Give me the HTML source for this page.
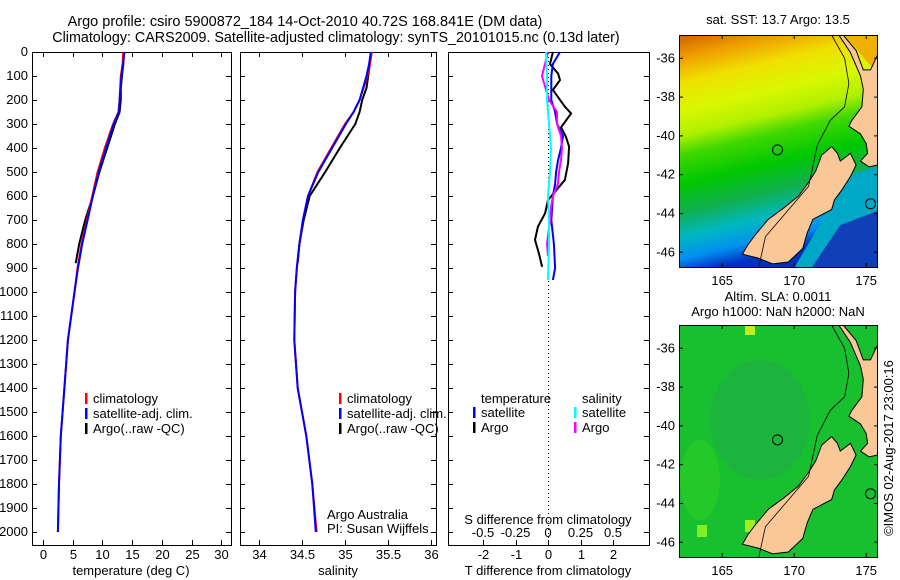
<!DOCTYPE html>
<html><head><meta charset="utf-8"><style>
body{margin:0;background:#fff;}
svg{display:block;font-family:"Liberation Sans",sans-serif;}
text{font-size:12.5px;fill:#000;}
</style></head><body>
<svg id="c" width="900" height="580" viewBox="0 0 900 580">
<text x="305" y="26" text-anchor="middle" style="font-size:14.5px">Argo profile: csiro 5900872_184 14-Oct-2010 40.72S 168.841E (DM data)</text>
<text x="336" y="42" text-anchor="middle" style="font-size:14.3px">Climatology: CARS2009. Satellite-adjusted climatology: synTS_20101015.nc (0.13d later)</text>
<g id="g"></g>
</svg>
<script>
// ---- data ----
const depthTicks=[0,100,200,300,400,500,600,700,800,900,1000,1100,1200,1300,1400,1500,1600,1700,1800,1900,2000];
const tTicks=[0,5,10,15,20,25,30];
const sTicks=[34,34.5,35,35.5,36];
const tdTicks=[-2,-1,0,1,2];
const sdTicks=[-0.5,-0.25,0,0.25,0.5];
const sdTickLabels=["-0.5","-0.25","0","0.25","0.5"];
const profDepth=[0,50,100,200,250,300,400,500,600,700,800,900,1000,1200,1400,1500,1600,1800,2000];
const tempClim=[13.5,13.4,13.1,12.9,12.7,11.8,10.4,9.2,8.3,7.4,6.5,5.8,5.3,4.2,3.6,3.3,3.0,2.7,2.5];
const tempSat=[13.7,13.5,13.2,12.9,12.8,11.9,10.6,9.4,8.4,7.5,6.6,5.9,5.3,4.2,3.6,3.3,3.0,2.7,2.5];
const argoDepth=[0,50,100,150,200,250,300,400,500,600,700,800,880];
const tempArgo=[13.6,13.5,13.3,13.1,13.1,12.9,12.1,10.8,9.5,8.4,7.1,6.1,5.5];
const salClim=[35.31,35.29,35.26,35.17,35.10,35.00,34.84,34.68,34.57,34.51,34.47,34.44,34.42,34.41,34.45,34.50,34.55,34.62,34.67];
const salSat=[35.30,35.28,35.25,35.17,35.10,35.01,34.85,34.69,34.57,34.51,34.47,34.44,34.42,34.41,34.45,34.50,34.55,34.62,34.66];
const salArgo=[35.31,35.29,35.27,35.25,35.20,35.17,35.12,34.94,34.77,34.59,34.52,34.47,34.45];
const dBlueD=[0,50,100,200,250,300,350,400,450,500,550,600,700,800,900,950];
const dBlueT=[0.37,0.15,0.1,0.1,0.22,0.28,0.46,0.4,0.31,0.25,0.22,0.15,0.1,0.18,0.22,0.15];
const dBlackD=[0,50,90,117,158,228,256,314,353,394,464,533,617,672,728,783,839,895];
const dBlackT=[0.15,0.06,0.31,0.37,0.15,0.52,0.71,0.4,0.55,0.65,0.62,0.52,0.0,-0.09,-0.31,-0.4,-0.28,-0.18];
const dCyanD=[0,100,200,300,400,500,600,700,800,950];
const dCyanS=[-0.015,-0.008,-0.008,0.008,0.023,0.015,0.0,0.008,0.008,0.0];
const dMagD=[0,50,100,200,250,300,350,400,450,500,550,600,650,700,800,850];
const dMagS=[0.0,-0.023,-0.046,0.008,0.069,0.069,0.1,0.108,0.1,0.085,0.077,0.038,0.023,0.015,-0.008,0.0];
const latTicks=[-36,-38,-40,-42,-44,-46];
const lonTicks=[165,170,175];

const NS="http://www.w3.org/2000/svg";
const G=document.getElementById('g');
function mk(t,a,p){const e=document.createElementNS(NS,t);for(const k in a)e.setAttribute(k,a[k]);(p||G).appendChild(e);return e;}
const y=d=>52+d*0.24;
const xT=v=>43+v*5.94;
const xS=v=>259+(v-34)*86;
const xTD=v=>548+v*32.5;
const xSD=v=>548+v*130;
const panels=[[32,231],[240,436],[448,649]];
panels.forEach((p,i)=>{
 const r=mk('rect',{x:p[0]+.5,y:52.5,width:p[1]-p[0],height:493,fill:'none',stroke:'#000','stroke-width':1});
 
 
 depthTicks.forEach(d=>{
  const l=mk('path',{d:`M${p[0]} ${y(d)+.5}h5M${p[1]} ${y(d)+.5}h-5`,stroke:'#000'});
  
  
 });
});
depthTicks.forEach(d=>{
 const t=mk('text',{x:28,y:y(d)+4,'text-anchor':'end',style:'font-size:13px'});t.textContent=d;
 
 
});
function xticks(ticks,fx,labels,ly,tickTop){
 ticks.forEach((v,i)=>{
  const X=Math.round(fx(v))+.5;
  const l=mk('path',{d:(tickTop?`M${X} 52v5`:'')+`M${X} 545v-5`,stroke:'#000'});
  
  
  const t=mk('text',{x:X,y:ly,'text-anchor':'middle',style:'font-size:13px'});t.textContent=labels?labels[i]:v;
  
  
 });
}
xticks(tTicks,xT,null,559,true);
xticks(sTicks,xS,null,559,true);
xticks(tdTicks,xTD,null,559,false);
sdTicks.forEach((v,i)=>{
 const t=mk('text',{x:xSD(v),y:537,'text-anchor':'middle',style:'font-size:13px'});t.textContent=sdTickLabels[i];
 
 
});
[['temperature (deg C)',131,'x-axis-title-temperature'],['salinity',338,'x-axis-title-salinity'],['T difference from climatology',548,'x-axis-title-t-diff']].forEach(a=>{
 const t=mk('text',{x:a[1],y:575,'text-anchor':'middle',style:'font-size:13px'});t.textContent=a[0];
 
 
});
{const t=mk('text',{x:548,y:524,'text-anchor':'middle',style:'font-size:13px'});t.textContent='S difference from climatology';

}
{const l=mk('line',{x1:548.5,y1:53,x2:548.5,y2:545,stroke:'#000','stroke-dasharray':'1 3'});

}
function line(ds,vs,fx,col,name,w){
 const d=ds.map((dd,i)=>(i?'L':'M')+fx(vs[i]).toFixed(1)+' '+y(dd).toFixed(1)).join('');
 const p=mk('path',{d:d,fill:'none',stroke:col,'stroke-width':w||2});
 
 
}
line(argoDepth,tempArgo,xT,'#000','temp-argo-line');
line(profDepth,tempClim,xT,'#f00','temp-clim-line');
line(profDepth,tempSat,xT,'#00f','temp-sat-line');
line(argoDepth,salArgo,xS,'#000','sal-argo-line');
line(profDepth,salClim,xS,'#f00','sal-clim-line');
line(profDepth,salSat,xS,'#00f','sal-sat-line');
line(dBlackD,dBlackT,xTD,'#000','tdiff-argo-line');
line(dBlueD,dBlueT,xTD,'#00f','tdiff-sat-line');
line(dMagD,dMagS,xSD,'#f0f','sdiff-argo-line');
line(dCyanD,dCyanS,xSD,'#0ff','sdiff-sat-line');
function leg(x,yy,col,txt,name,fs){
 if(col){const r=mk('rect',{x:x,y:yy-10,width:2.5,height:11,fill:col});
 
 }
 const t=mk('text',{x:x+(col?8:0),y:yy,style:'font-size:'+fs+'px'});t.textContent=txt;
 
 
}
[[85,'#f00','climatology'],[85,'#00f','satellite-adj. clim.'],[85,'#000','Argo(..raw -QC)']].forEach((a,i)=>leg(a[0],403+i*15,a[1],a[2],'legend-temp-'+i,13));
[[339,'#f00','climatology'],[339,'#00f','satellite-adj. clim.'],[339,'#000','Argo(..raw -QC)']].forEach((a,i)=>leg(a[0],403+i*15,a[1],a[2],'legend-sal-'+i,13));
leg(481,403,null,'temperature','legend-diff-temp-header',13);
leg(582,403,null,'salinity','legend-diff-sal-header',13);
leg(473,417,'#00f','satellite','legend-diff-tsat',13);
leg(473,432,'#000','Argo','legend-diff-targo',13);
leg(574,417,'#0ff','satellite','legend-diff-ssat',13);
leg(574,432,'#f0f','Argo','legend-diff-sargo',13);
leg(327,519,null,'Argo Australia','credit-argo-australia',13);
leg(327,533,null,'PI: Susan Wijffels','credit-pi',13);
// maps
const mx=v=>679+(v-162)*14.4;
function makeMap(top,name,bg){
 const my=v=>top+(-34.8-v)*19.4;
 const g=mk('g',{});
 
 
 const cp=mk('clipPath',{id:'cp'+top},g);
 mk('rect',{x:679,y:top,width:198,height:232},cp);
 const inner=mk('g',{'clip-path':'url(#cp'+top+')'},g);
 bg(inner,my);
 const poly=pts=>pts.map((p,i)=>(i?'L':'M')+mx(p[0]).toFixed(1)+' '+my(p[1]).toFixed(1)).join('')+'Z';
 const SI=[[166.4,-46.1],[166.8,-45.6],[167.3,-45.1],[168.2,-44.3],[169.3,-43.7],[170.3,-43.1],[171.0,-42.4],[171.5,-41.8],[171.9,-41.0],[172.6,-40.55],[173.0,-40.9],[173.2,-41.3],[173.9,-40.9],[174.3,-41.5],[173.9,-42.1],[173.3,-42.8],[172.8,-43.3],[172.6,-43.8],[171.3,-44.3],[170.9,-45.0],[170.6,-45.8],[169.6,-46.5],[168.5,-46.6],[167.5,-46.3]];
 const NI=[[174.6,-41.3],[175.2,-41.6],[175.8,-41.5],[175.8,-35.8],[175.3,-36.6],[174.8,-36.6],[174.3,-35.6],[173.4,-34.8],[173.1,-34.8],[173.9,-35.7],[174.6,-36.9],[174.8,-37.6],[174.7,-38.5],[174.0,-39.2],[173.8,-39.5],[174.6,-39.9],[175.0,-40.4],[175.1,-40.9]];
 const l1=mk('path',{d:poly(SI),fill:'#fac896',stroke:'#000','stroke-width':1},inner);
 
 
 const l2=mk('path',{d:poly(NI),fill:'#fac896',stroke:'#000','stroke-width':1},inner);
 
 
 const iso=[[167.5,-46.9],[168,-45.2],[169.5,-43.9],[171,-42.6],[171.6,-40.5],[172.5,-39.2],[173.5,-38.5],[173.8,-37.3],[173.5,-36],[172.6,-34.8]];
 const c=mk('path',{d:iso.map((p,i)=>(i?'L':'M')+mx(p[0]).toFixed(1)+' '+my(p[1]).toFixed(1)).join(''),fill:'none',stroke:'#000','stroke-width':0.8},inner);
 
 
 const ring=mk('circle',{cx:mx(168.841),cy:my(-40.72),r:5,fill:'none',stroke:'#000'},inner);
 
 
 const ring2=mk('circle',{cx:mx(175.3),cy:my(-43.5),r:5,fill:'none',stroke:'#000'},inner);
 
 
 const b=mk('rect',{x:679.5,y:top+.5,width:198,height:232,fill:'none',stroke:'#000'},g);
 
 
 latTicks.forEach(v=>{
  const t=mk('text',{x:675,y:my(v)+4,'text-anchor':'end',style:'font-size:13px'},g);t.textContent=v;
  
  
  mk('path',{d:`M679 ${my(v)}h4M878 ${my(v)}h-4`,stroke:'#000'},g);
 });
 lonTicks.forEach(v=>{
  const t=mk('text',{x:mx(v),y:top+250,'text-anchor':'middle',style:'font-size:13px'},g);t.textContent=v;
  
  
  mk('path',{d:`M${mx(v)} ${top}v4M${mx(v)} ${top+232}v-4`,stroke:'#000'},g);
 });
}
makeMap(35,'sst-map',(g,my)=>{
 const defs=mk('defs',{},g);
 const lg=mk('linearGradient',{id:'sstg',x1:0,y1:0,x2:0.2,y2:1},defs);
 [[0,'#d06000'],[0.1,'#f0a000'],[0.2,'#f0e000'],[0.32,'#d8f800'],[0.42,'#b0f000'],[0.5,'#40d800'],[0.62,'#00c800'],[0.74,'#10b050'],[0.84,'#00b8c0'],[0.93,'#0090f0'],[1,'#0030c0']].forEach(s=>mk('stop',{offset:s[0],'stop-color':s[1]},lg));
 mk('rect',{x:679,y:35,width:198,height:232,fill:'url(#sstg)'},g);
 mk('path',{d:`M${mx(170)} ${my(-46.8)}L${mx(172.8)} ${my(-43.3)}L${mx(174)} ${my(-42)}L${mx(176)} ${my(-41.5)}L${mx(176)} ${my(-46.8)}Z`,fill:'#00a8c8'},g);
 mk('path',{d:`M${mx(171.2)} ${my(-46.8)}L${mx(173.2)} ${my(-44.6)}L${mx(176)} ${my(-43.8)}L${mx(176)} ${my(-46.8)}Z`,fill:'#1040b8'},g);
 mk('path',{d:`M${mx(173.5)} ${my(-34.8)}L${mx(176)} ${my(-34.8)}L${mx(176)} ${my(-37)}Z`,fill:'#f0b000'},g);
});
makeMap(325,'sla-map',(g,my)=>{
 mk('rect',{x:679,y:325,width:198,height:232,fill:'#18c030'},g);
 mk('ellipse',{cx:760,cy:420,rx:50,ry:60,fill:'#20a848',opacity:0.5},g);
 mk('ellipse',{cx:700,cy:480,rx:20,ry:40,fill:'#30d020',opacity:0.5},g);
 mk('rect',{x:745,y:325,width:10,height:10,fill:'#c0f020'},g);
 mk('rect',{x:745,y:520,width:10,height:12,fill:'#a0f020'},g);
 mk('rect',{x:697,y:525,width:10,height:12,fill:'#80f020'},g);
});
{const t=mk('text',{x:778,y:24,'text-anchor':'middle',style:'font-size:13px'});t.textContent='sat. SST: 13.7 Argo: 13.5';
}
{const t=mk('text',{x:778,y:301,'text-anchor':'middle',style:'font-size:13px'});t.textContent='Altim. SLA: 0.0011';
}
{const t=mk('text',{x:778,y:316,'text-anchor':'middle',style:'font-size:13px'});t.textContent='Argo h1000: NaN h2000: NaN';
}
{const t=mk('text',{x:0,y:0,transform:'translate(893,448) rotate(-90)','text-anchor':'middle',style:'font-size:13px'});t.textContent='©IMOS 02-Aug-2017 23:00:16';
}
</script>
</body></html>
